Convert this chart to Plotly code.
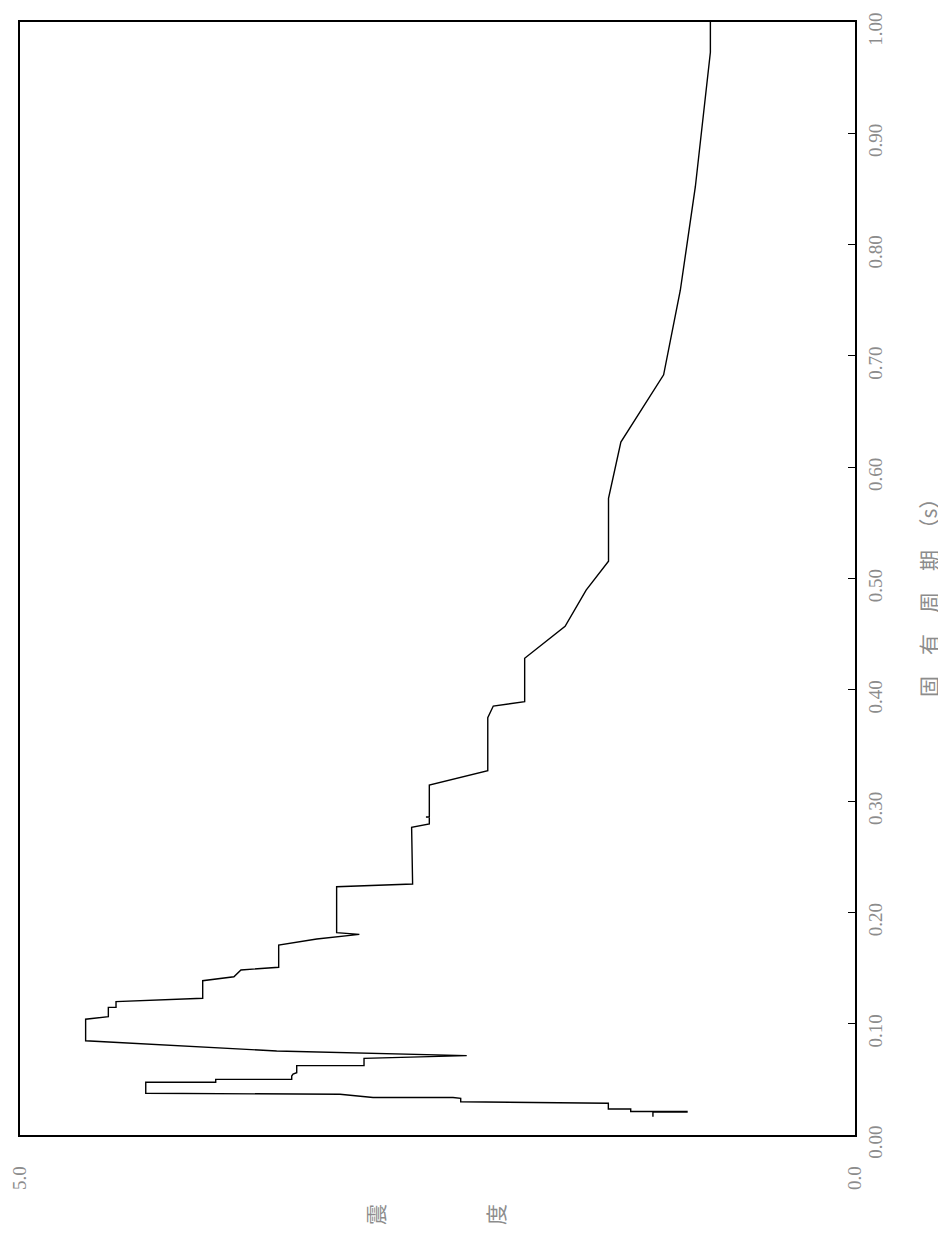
import plotly.graph_objects as go

# floor response spectrum, drawn rotated (period runs up, seismic coefficient runs left)
period = [0.0164, 0.0207, 0.0207, 0.0211, 0.0211, 0.0234, 0.0234, 0.0285, 0.0299, 0.0330,
          0.0337, 0.0337, 0.0366, 0.0375, 0.0474, 0.0474, 0.0500, 0.0500, 0.0530, 0.0548,
          0.0560, 0.0623, 0.0623, 0.0689, 0.0713, 0.0755, 0.0847, 0.1040, 0.1063, 0.1147,
          0.1147, 0.1198, 0.1228, 0.1386, 0.1422, 0.1483, 0.1507, 0.1707, 0.1761, 0.1803,
          0.1818, 0.2231, 0.2255, 0.2765, 0.2794, 0.2855, 0.2857, 0.2859, 0.3145, 0.3273,
          0.3749, 0.3854, 0.3893, 0.4283, 0.4571, 0.4895, 0.5155, 0.5720, 0.6226, 0.6830,
          0.7590, 0.8520, 0.9728, 1.0000]
accel = [1.210, 1.210, 1.006, 1.006, 1.343, 1.343, 1.477, 1.477, 2.361, 2.361,
         2.407, 2.886, 3.084, 4.247, 4.247, 3.828, 3.828, 3.373, 3.373, 3.365,
         3.343, 3.343, 2.940, 2.940, 2.325, 3.463, 4.607, 4.607, 4.471, 4.471,
         4.425, 4.425, 3.906, 3.906, 3.719, 3.677, 3.451, 3.451, 3.223, 2.968,
         3.104, 3.104, 2.649, 2.655, 2.549, 2.549, 2.569, 2.549, 2.549, 2.199,
         2.199, 2.166, 1.978, 1.978, 1.736, 1.610, 1.476, 1.476, 1.402, 1.146,
         1.046, 0.956, 0.866, 0.866]

period_ticks = [i / 10 for i in range(11)]
accel_ticks = [0.0, 5.0]
accel_ticktext = ["0.0", "5.0"]

GRAY = "#8c8c8c"
NUM_FONT = dict(family="Liberation Serif", size=19, color=GRAY)
CJK_FONT = dict(family="Noto Sans CJK JP", size=21, color=GRAY)

fig = go.Figure()
fig.add_trace(go.Scatter(x=accel, y=period, mode="lines",
                         line=dict(color="black", width=1.4), showlegend=False))

# page has an 8px body margin, so margins are 8px less on left/top
fig.update_layout(
    width=946, height=1234,
    margin=dict(l=12, r=99, t=14, b=107),
    paper_bgcolor="white", plot_bgcolor="white",
)
fig.update_xaxes(range=[5, 0], showgrid=False, zeroline=False, automargin=False,
                 showline=True, mirror=True, linecolor="black", linewidth=1.5,
                 tickvals=accel_ticks, ticktext=accel_ticktext, ticks="",
                 tickangle=-90, tickfont=NUM_FONT, ticklabelstandoff=22,
                 ticklabeloverflow="allow")
fig.update_yaxes(range=[0, 1], side="right", showgrid=False, zeroline=False,
                 automargin=False,
                 showline=True, mirror=True, linecolor="black", linewidth=1.5,
                 tickvals=period_ticks, tickformat=".2f", ticks="inside",
                 ticklen=7, tickcolor="black", tickwidth=1.2,
                 tickangle=-90, tickfont=NUM_FONT, ticklabelshift=10,
                 ticklabelstandoff=2, ticklabeloverflow="allow")

# axis titles as rotated text
fig.add_annotation(text="固　有　周　期　（s）", textangle=-90, font=CJK_FONT,
                   xref="paper", yref="paper", x=(928 - 20) / 835, y=0.487,
                   xanchor="center", yanchor="middle", showarrow=False)
for ch, xp in [("震", 375), ("度", 495)]:
    fig.add_annotation(text=ch, textangle=-90, font=CJK_FONT,
                       xref="paper", yref="paper", x=(xp - 20) / 835,
                       y=-(1215 - 1135) / 1113, xanchor="center",
                       yanchor="middle", showarrow=False)

fig.write_html("out.html")
